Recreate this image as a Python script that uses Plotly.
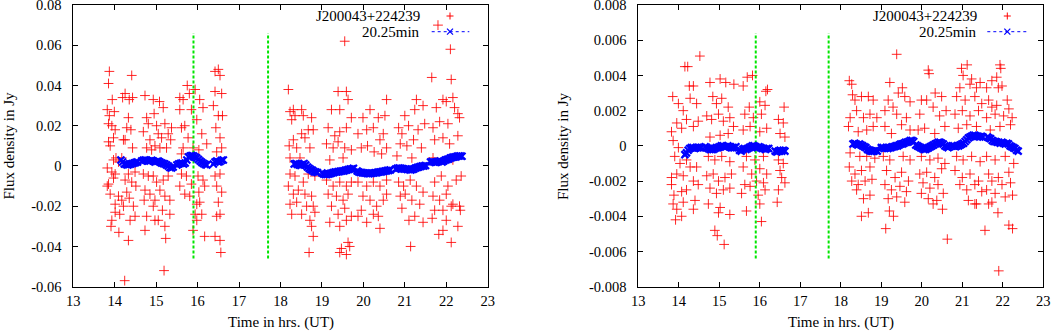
import plotly.graph_objects as go

# ---------------- data ----------------
# Left panel: individual flux measurements (time in hrs UT, flux in Jy)
left_points = [
    (13.87, 0.047), (13.85, 0.041), (13.94, 0.033), (13.82, 0.028), (13.87, 0.025), (13.99, 0.027),
    (13.85, 0.021), (13.93, 0.020), (14.01, 0.018), (13.85, 0.012), (13.89, 0.010), (13.97, 0.014),
    (14.03, 0.004), (13.97, 0.003), (14.09, 0.002), (13.82, -0.001), (13.93, -0.003), (14.01, -0.004),
    (13.85, -0.009), (13.97, -0.006), (13.89, -0.014), (13.82, -0.010), (14.09, -0.015), (14.01, -0.019),
    (13.93, -0.027), (13.91, -0.030), (14.01, -0.023), (14.10, -0.033), (14.12, -0.024), (14.24, -0.057),
    (14.25, 0.036), (14.19, 0.034), (14.33, 0.024), (14.35, 0.033), (14.41, 0.045), (14.43, 0.034),
    (14.29, 0.019), (14.39, 0.018), (14.25, 0.013), (14.43, 0.009), (14.21, 0.013), (14.33, -0.004),
    (14.25, -0.007), (14.41, -0.008), (14.29, -0.013), (14.17, -0.017), (14.35, -0.016), (14.45, -0.020),
    (14.37, -0.027), (14.49, -0.025), (14.21, -0.020), (14.33, -0.037), (14.49, -0.003), (14.51, -0.010),
    (14.17, 0.004),
    (14.73, 0.035), (14.77, 0.024), (14.81, 0.021), (14.69, 0.017), (14.85, 0.013), (14.93, 0.033),
    (14.95, 0.026), (15.01, 0.020), (15.08, 0.032), (15.17, 0.029), (15.05, 0.016), (15.13, 0.014),
    (15.21, 0.021), (15.29, 0.016), (15.35, 0.013), (15.37, 0.019), (14.77, 0.009), (14.89, 0.008),
    (14.97, 0.010), (15.09, 0.009), (15.25, 0.009), (14.69, -0.004), (14.81, -0.005), (14.93, -0.005),
    (15.01, -0.008), (15.17, -0.007), (15.29, -0.005), (14.73, -0.012), (14.85, -0.014), (14.97, -0.017),
    (15.09, -0.012), (15.21, -0.015), (15.33, -0.017), (14.71, -0.017), (14.77, -0.025), (14.93, -0.020),
    (14.97, -0.027), (15.05, -0.027), (15.15, -0.022), (15.21, -0.030), (14.73, -0.032), (15.23, -0.036),
    (15.19, -0.052), (15.33, -0.024),
    (15.57, 0.034), (15.65, 0.033), (15.75, 0.040), (15.80, 0.036), (15.94, 0.038), (15.85, 0.028),
    (16.05, 0.033), (16.13, 0.029), (15.57, 0.028), (15.61, 0.019), (15.69, 0.020), (15.77, 0.014),
    (15.98, 0.023), (16.10, 0.016), (16.22, 0.011), (15.65, 0.009), (15.89, 0.009), (16.03, 0.008),
    (15.61, -0.004), (15.73, -0.005), (15.85, -0.009), (16.01, -0.005), (16.13, -0.007), (15.57, -0.010),
    (15.69, -0.014), (15.81, -0.015), (16.03, -0.013), (16.17, -0.010), (15.98, -0.019), (16.05, -0.018),
    (15.94, -0.024), (15.98, -0.027), (16.10, -0.024), (15.89, -0.032), (16.17, -0.035), (15.61, 0.006),
    (16.42, 0.047), (16.50, 0.048), (16.54, 0.045), (16.42, 0.037), (16.58, 0.036), (16.38, 0.030),
    (16.50, 0.025), (16.60, 0.025), (16.44, 0.019), (16.54, 0.014), (16.58, 0.009), (16.46, 0.007),
    (16.42, -0.005), (16.54, -0.004), (16.46, -0.010), (16.58, -0.013), (16.50, -0.018), (16.46, -0.025),
    (16.54, -0.024), (16.42, -0.035), (16.54, -0.037), (16.56, -0.043),
    (18.19, 0.038), (18.23, 0.027), (18.31, 0.028), (18.27, 0.023), (18.35, 0.025), (18.51, 0.028),
    (18.55, 0.025), (18.67, 0.018), (18.75, 0.024), (18.79, 0.018), (18.21, 0.010), (18.31, 0.013),
    (18.39, 0.009), (18.51, 0.016), (18.59, 0.014), (18.71, 0.009), (18.23, 0.004), (18.47, 0.004),
    (18.23, -0.004), (18.35, -0.005), (18.55, -0.008), (18.67, -0.004), (18.83, -0.005), (18.19, -0.010),
    (18.31, -0.014), (18.43, -0.012), (18.59, -0.014), (18.75, -0.015), (18.23, -0.019), (18.39, -0.018),
    (18.51, -0.024), (18.63, -0.020), (18.79, -0.020), (18.83, -0.023), (18.71, -0.027), (18.75, -0.030),
    (18.79, -0.035), (18.69, -0.043), (18.27, -0.024),
    (19.55, 0.062), (19.39, 0.037), (19.59, 0.037), (19.63, 0.033), (19.43, 0.028), (19.23, 0.028),
    (19.71, 0.024), (19.15, 0.019), (19.31, 0.015), (19.43, 0.017), (19.59, 0.019), (19.11, 0.011),
    (19.27, 0.009), (19.39, 0.012), (19.55, 0.009), (19.71, 0.008), (19.19, 0.003), (19.51, 0.004),
    (19.11, -0.007), (19.27, -0.010), (19.43, -0.008), (19.59, -0.010), (19.71, -0.008), (19.15, -0.014),
    (19.35, -0.015), (19.51, -0.017), (19.63, -0.014), (19.23, -0.020), (19.39, -0.024), (19.55, -0.021),
    (19.71, -0.025), (19.19, -0.028), (19.59, -0.027), (19.43, -0.030), (19.63, -0.038), (19.67, -0.040),
    (19.47, -0.041), (19.59, -0.044), (19.43, -0.043),
    (19.99, 0.024), (20.16, 0.028), (20.36, 0.024), (20.52, 0.025), (20.56, 0.033), (19.87, 0.016),
    (20.08, 0.018), (20.24, 0.019), (20.40, 0.013), (20.48, 0.016), (19.95, 0.009), (20.10, 0.010),
    (20.26, 0.007), (20.44, 0.006), (20.56, 0.009), (19.87, -0.008), (20.08, -0.010), (20.24, -0.008),
    (20.40, -0.010), (20.56, -0.007), (19.99, -0.015), (20.16, -0.017), (20.32, -0.020), (20.48, -0.017),
    (19.95, -0.022), (20.24, -0.024), (20.36, -0.025), (20.08, -0.028), (20.40, -0.031), (19.87, -0.025),
    (20.56, -0.014),
    (21.00, 0.025), (21.24, 0.028), (21.28, 0.033), (21.44, 0.030), (20.85, 0.019), (20.93, 0.016),
    (21.09, 0.020), (21.32, 0.018), (21.48, 0.021), (20.89, 0.011), (21.05, 0.010), (21.21, 0.013),
    (21.40, 0.009), (20.81, 0.005), (21.17, 0.004), (20.85, -0.008), (20.97, -0.010), (21.13, -0.007),
    (21.28, -0.010), (21.44, -0.013), (20.89, -0.015), (21.01, -0.014), (21.17, -0.017), (21.36, -0.019),
    (20.93, -0.021), (21.24, -0.025), (21.10, -0.027), (21.44, -0.028), (21.14, -0.040),
    (21.80, 0.070), (22.10, 0.058), (22.12, 0.043), (21.65, 0.044), (22.16, 0.034), (21.92, 0.033),
    (22.00, 0.032), (21.76, 0.029), (22.20, 0.029), (22.28, 0.026), (21.68, 0.019), (21.84, 0.022),
    (22.04, 0.021), (22.32, 0.024), (21.72, 0.013), (21.92, 0.014), (22.08, 0.011), (22.28, 0.015),
    (21.68, 0.004), (22.16, 0.003), (21.72, -0.008), (21.88, -0.005), (22.04, -0.010), (22.24, -0.007),
    (22.36, -0.005), (21.68, -0.015), (21.84, -0.017), (22.00, -0.014), (22.16, -0.019), (22.32, -0.020),
    (21.72, -0.022), (21.92, -0.022), (22.12, -0.020), (22.34, -0.022), (21.66, -0.026), (22.00, -0.027),
    (21.92, -0.032), (21.82, -0.034), (22.12, -0.038), (22.28, -0.030),
]

# Right panel: individual flux measurements (time in hrs UT, flux in mJy)
right_points_mjy = [
    (14.15, 4.5), (14.22, 4.5), (14.52, 5.1), (13.85, 2.8), (13.99, 2.4), (14.11, 2.0), (14.26, 3.4),
    (14.36, 3.4), (14.28, 2.7), (14.44, 2.4), (13.82, 0.8), (13.95, 1.3), (14.07, 1.0), (14.19, 1.5),
    (14.36, 1.1), (14.48, 1.4), (13.86, 0.3), (13.99, -0.1), (13.90, -0.6), (14.03, -1.0), (14.19, -0.8),
    (14.28, -1.2), (14.44, -1.2), (13.82, -1.8), (13.95, -1.6), (14.11, -1.7), (14.36, -2.0), (14.48, -2.2),
    (13.82, -2.2), (13.88, -2.8), (14.07, -2.6), (14.19, -2.5), (14.40, -3.1), (13.86, -3.3), (13.95, -3.6),
    (14.11, -3.2), (14.36, -3.6), (13.92, -4.2), (14.07, -4.0),
    (14.77, 3.6), (15.02, 3.8), (15.16, 3.6), (15.36, 3.5), (14.84, 2.8), (14.93, 2.4), (15.06, 2.7),
    (15.22, 2.2), (14.69, 1.7), (14.81, 1.5), (14.98, 1.8), (15.10, 1.4), (15.26, 1.6), (15.35, 1.1),
    (14.77, 0.5), (15.02, 0.6), (15.22, 0.7), (14.73, -0.6), (14.89, -0.8), (15.06, -0.6), (15.26, -0.9),
    (14.69, -1.7), (14.85, -1.6), (14.98, -2.0), (15.14, -1.8), (15.30, -1.6), (14.77, -2.4), (14.93, -2.7),
    (15.10, -2.5), (15.26, -2.4), (14.73, -3.3), (15.02, -3.5), (15.26, -3.9), (14.98, -3.8), (14.89, -4.8),
    (14.95, -5.1), (15.12, -5.6),
    (15.69, 3.9), (15.82, 4.0), (15.59, 3.4), (15.74, 2.2), (16.00, 2.5), (16.15, 3.1), (16.19, 3.2),
    (15.63, 1.8), (15.84, 1.6), (16.04, 1.8), (16.13, 2.3), (15.59, 0.9), (15.76, 1.1), (16.00, 0.8),
    (16.17, 1.0), (15.67, -0.6), (15.88, -0.8), (16.09, -0.6), (15.59, -1.2), (15.80, -1.6), (16.00, -1.3),
    (16.17, -1.6), (15.63, -2.2), (15.76, -2.3), (15.92, -2.0), (16.09, -2.1), (15.55, -2.7), (15.96, -2.8),
    (16.13, -2.5), (16.00, -3.3), (15.67, -3.7), (16.04, -4.3),
    (16.60, 2.2), (16.46, 1.5), (16.58, 1.3), (16.50, 0.7), (16.62, 0.5), (16.46, -0.8), (16.58, -1.0),
    (16.50, -1.4), (16.62, -2.1), (16.54, -1.8), (16.46, -2.5), (16.43, -3.2),
    (18.21, 3.7), (18.27, 3.5), (18.29, 2.9), (18.35, 2.6), (18.51, 2.8), (18.68, 2.8), (18.80, 2.6),
    (18.23, 1.6), (18.39, 2.0), (18.56, 1.6), (18.72, 1.8), (18.89, 1.6), (18.19, 1.1), (18.43, 0.8),
    (18.64, 0.9), (18.80, 1.1), (18.23, -0.4), (18.47, -0.6), (18.64, -0.6), (18.84, -0.7), (18.21, -1.2),
    (18.35, -1.6), (18.51, -1.4), (18.72, -1.2), (18.27, -2.0), (18.43, -2.2), (18.60, -2.0), (18.77, -1.9),
    (18.39, -2.5), (18.56, -3.0), (18.72, -2.8), (18.51, -4.0), (18.68, -3.8),
    (19.38, 5.2), (19.21, 3.6), (19.52, 3.3), (19.42, 3.0), (19.17, 2.6), (19.29, 2.2), (19.58, 2.8),
    (19.71, 2.5), (19.09, 2.0), (19.38, 1.8), (19.62, 1.6), (19.09, 1.1), (19.25, 0.7), (19.50, 1.2),
    (19.71, 0.9), (19.05, -0.6), (19.21, -0.8), (19.54, -0.6), (19.71, -0.8), (19.13, -1.4), (19.34, -1.8),
    (19.50, -1.5), (19.67, -2.0), (19.09, -2.2), (19.25, -2.5), (19.46, -2.3), (19.62, -2.6), (19.17, -3.0),
    (19.38, -2.9), (19.58, -3.2), (19.20, -3.7), (19.30, -4.0), (19.11, -4.7),
    (20.16, 4.3), (20.18, 4.1), (20.12, 2.6), (19.99, 2.6), (20.33, 3.0), (20.49, 2.8), (19.95, 1.8),
    (20.28, 2.2), (20.44, 1.7), (20.60, 2.0), (19.91, 0.9), (20.07, 1.0), (20.32, 0.7), (20.57, 1.1),
    (19.99, -0.6), (20.20, -0.8), (20.40, -0.7), (20.57, -1.0), (19.95, -1.6), (20.12, -1.5), (20.32, -1.8),
    (20.49, -1.3), (20.03, -2.1), (20.20, -2.4), (20.40, -2.2), (19.99, -2.7), (20.16, -3.0), (20.37, -3.1),
    (20.53, -2.7), (20.28, -3.3), (20.51, -3.6), (20.63, -5.3),
    (20.98, 4.4), (21.12, 4.6), (21.23, 3.8), (21.02, 4.0), (20.94, 3.3), (21.19, 3.5), (21.35, 3.3),
    (21.44, 3.6), (20.86, 2.8), (21.07, 2.6), (21.31, 2.8), (21.48, 2.4), (20.82, 1.8), (21.00, 2.0),
    (21.19, 1.7), (21.40, 2.0), (20.90, 1.0), (21.11, 1.2), (21.35, 1.1), (20.86, -0.6), (21.02, -0.8),
    (21.23, -0.6), (21.44, -0.9), (20.82, -1.4), (21.00, -1.8), (21.19, -1.6), (21.40, -2.0), (20.94, -2.2),
    (21.11, -2.5), (21.31, -2.2), (21.48, -2.6), (21.15, -3.1), (21.31, -3.3), (21.35, -3.3),
    (21.93, 4.6), (21.95, 4.4), (21.85, 3.9), (21.73, 3.7), (21.60, 3.3), (21.89, 3.3), (21.98, 3.4),
    (21.65, 2.6), (22.11, 2.6), (21.73, 2.2), (21.85, 2.3), (22.15, 2.1), (21.60, 1.6), (21.81, 1.8),
    (22.02, 1.7), (22.23, 1.6), (21.69, 0.9), (21.93, 1.1), (22.19, 1.2), (21.60, -0.6), (21.81, -0.8),
    (22.06, -0.6), (22.27, -1.0), (21.65, -1.6), (21.89, -1.8), (22.15, -1.5), (21.73, -2.0), (21.98, -2.2),
    (22.19, -2.1), (21.60, -2.5), (21.81, -2.7), (22.06, -2.9), (22.24, -2.8), (21.73, -3.2), (21.65, -3.3),
    (21.56, -4.8), (21.88, -3.8), (22.15, -4.5), (22.24, -4.7), (21.90, -7.1),
]

# 20.25-min running average: (segment start time, sampling step in hrs, values)
left_avg_segments = [
    (14.15, 0.04, [0.003, 0.002, 0.001, 0.0008, 0.0005, 0.0008, 0.001, 0.0012, 0.0015, 0.0018, 0.002]),
    (14.65, 0.04, [0.0025, 0.0028, 0.003, 0.0028, 0.0025, 0.0025, 0.0028, 0.0025, 0.002, 0.0022,
                   0.0025, 0.002, 0.0015, 0.0012, 0.001, 0.0005, 0.0, -0.0008, -0.001, -0.0005]),
    (15.50, 0.04, [0.0005, 0.001, 0.0012, 0.0015, 0.001, 0.0015, 0.003, 0.0045, 0.005, 0.0052,
                   0.005, 0.0045, 0.004, 0.0032, 0.0025, 0.0018, 0.0012, 0.0008, 0.0005]),
    (16.38, 0.04, [0.001, 0.002, 0.0025, 0.002, 0.0022, 0.0028, 0.003]),
    (18.33, 0.04, [0.001, 0.0012, 0.0008, 0.0005, 0.0003, 0.0008, 0.0012, 0.0005, -0.0005, -0.0012,
                   -0.0018, -0.0022, -0.0028, -0.003, -0.0032]),
    (19.00, 0.04, [-0.0035, -0.004, -0.0042, -0.0042, -0.004, -0.0038, -0.0035, -0.0033, -0.003, -0.003,
                   -0.0028, -0.0027, -0.0025, -0.0025, -0.0022, -0.002, -0.0018, -0.0015, -0.0015, -0.0012]),
    (19.85, 0.04, [-0.0025, -0.003, -0.0032, -0.0033, -0.0035, -0.0035, -0.0037, -0.0038, -0.0037, -0.0036,
                   -0.0035, -0.0034, -0.0033, -0.003, -0.003, -0.0028, -0.0027, -0.0025, -0.0023, -0.0022,
                   -0.002]),
    (20.78, 0.04, [-0.0015, -0.0012, -0.001, -0.0012, -0.0013, -0.0015, -0.0015, -0.0017, -0.0018, -0.002,
                   -0.0018, -0.0015, -0.001, -0.0008, -0.0005, -0.0003, 0.0, 0.0, 0.0002]),
    (21.62, 0.04, [0.002, 0.0022, 0.002, 0.0018, 0.002, 0.0022, 0.0025, 0.002, 0.0025, 0.003,
                   0.0032, 0.0035, 0.004, 0.0042, 0.0045, 0.0045, 0.0048, 0.005, 0.005, 0.0048]),
]
right_avg_segments_mjy = [
    (14.15, 0.04, [-0.5, -0.4, -0.25, -0.15, -0.1, -0.1, -0.15, -0.1, -0.1, -0.1, -0.1]),
    (14.65, 0.04, [-0.05, -0.1, -0.15, -0.2, -0.2, -0.2, -0.15, -0.1, -0.1, -0.05,
                   0.0, 0.0, -0.05, -0.05, 0.0, -0.05, -0.1, -0.1, -0.1, -0.05]),
    (15.50, 0.04, [-0.25, -0.3, -0.2, -0.15, -0.2, -0.15, -0.1, -0.05, 0.0, 0.0,
                   -0.05, -0.1, -0.05, -0.1, -0.15, -0.15, -0.2, -0.15, -0.15]),
    (16.38, 0.04, [-0.3, -0.35, -0.3, -0.25, -0.3, -0.25, -0.3]),
    (18.30, 0.04, [0.1, 0.15, 0.1, 0.05, 0.1, 0.05, 0.0, -0.05, -0.1, -0.2, -0.25, -0.3, -0.3, -0.3,
                   -0.25, -0.3]),
    (19.00, 0.04, [-0.1, -0.1, -0.15, -0.1, -0.15, -0.1, -0.1, -0.05, -0.05, 0.0, 0.0, 0.05, 0.1, 0.1,
                   0.15, 0.2, 0.2, 0.25, 0.3, 0.3, 0.25]),
    (19.85, 0.04, [0.05, 0.0, -0.05, -0.1, -0.15, -0.2, -0.2, -0.15, -0.1, -0.05, 0.0, 0.05, 0.1, 0.15,
                   0.2, 0.2, 0.15, 0.1, 0.0, -0.05, -0.1]),
    (20.75, 0.04, [0.0, 0.0, -0.05, 0.0, 0.0, 0.05, 0.1, 0.15, 0.25, 0.35, 0.45, 0.5, 0.55, 0.6,
                   0.6, 0.55, 0.55, 0.5, 0.55, 0.5]),
    (21.62, 0.04, [0.5, 0.45, 0.4, 0.3, 0.25, 0.25, 0.2, 0.2, 0.15, 0.2, 0.15, 0.1, 0.15, 0.1,
                   0.0, -0.05, -0.1, -0.15, -0.25, -0.3]),
]

# vertical markers (green dashed lines)
vline_times = [15.9, 17.7]
left_vline_range = [-0.046, 0.066]
right_vline_range = [-0.0064, 0.0064]

x_ticks = [13, 14, 15, 16, 17, 18, 19, 20, 21, 22, 23]
left_yticks = [-0.06, -0.04, -0.02, 0, 0.02, 0.04, 0.06, 0.08]
left_yticklabels = ["-0.06", "-0.04", "-0.02", "0", "0.02", "0.04", "0.06", "0.08"]
right_yticks = [-0.008, -0.006, -0.004, -0.002, 0, 0.002, 0.004, 0.006, 0.008]
right_yticklabels = ["-0.008", "-0.006", "-0.004", "-0.002", "0", "0.002", "0.004", "0.006", "0.008"]

source_name = "J200043+224239"
avg_name = "20.25min"
x_title = "Time in hrs. (UT)"
y_title = "Flux density in Jy"

# ---------------- build figure ----------------
W, H = 1059, 331
FONT = "Liberation Serif"
FS = 14.5    # tick labels
FS_T = 15    # titles / key
RED = "rgb(255,0,0)"
BLUE = "rgb(0,0,255)"
GREEN = "rgb(0,230,0)"


def unzip(pairs, scale=1.0):
    return [p[0] for p in pairs], [p[1] * scale for p in pairs]


def seg_series(segs, scale=1.0):
    xs, ys = [], []
    for t0, dt, vals in segs:
        for i, v in enumerate(vals):
            xs.append(round(t0 + i * dt, 4))
            ys.append(v * scale)
        xs.append(None)
        ys.append(None)
    return xs, ys


fig = go.Figure()

panels = [
    dict(xa="x", ya="y", pts=unzip(left_points), avg=seg_series(left_avg_segments),
         vr=left_vline_range),
    dict(xa="x2", ya="y2", pts=unzip(right_points_mjy, 1e-3), avg=seg_series(right_avg_segments_mjy, 1e-3),
         vr=right_vline_range),
]

for p in panels:
    fig.add_trace(go.Scatter(
        x=p["pts"][0], y=p["pts"][1], mode="markers", xaxis=p["xa"], yaxis=p["ya"],
        marker=dict(symbol="cross-thin", size=7, line=dict(color="rgba(255,0,0,0.85)", width=1), color=RED),
        showlegend=False, hoverinfo="skip"))
    for t in vline_times:
        fig.add_trace(go.Scatter(
            x=[t, t], y=p["vr"], mode="lines", xaxis=p["xa"], yaxis=p["ya"],
            line=dict(color=GREEN, width=2, dash="3px,2px"), showlegend=False, hoverinfo="skip"))
    fig.add_trace(go.Scatter(
        x=p["avg"][0], y=p["avg"][1], mode="lines+markers", xaxis=p["xa"], yaxis=p["ya"],
        line=dict(color=BLUE, width=1, dash="dot"),
        marker=dict(symbol="x-thin", size=7, line=dict(color=BLUE, width=2.2), color=BLUE),
        connectgaps=False, showlegend=False, hoverinfo="skip"))

# plot areas (pixel geometry of reference)
left_px = [73.3, 487.7]
right_px = [638.3, 1043.3]
top_px, bot_px = 5.0, 286.7
left_x = [left_px[0] / W, left_px[1] / W]
right_x = [right_px[0] / W, right_px[1] / W]
ydom = [(H - bot_px) / H, (H - top_px) / H]

axis_common = dict(showline=True, linecolor="black", linewidth=1, mirror="ticks", ticks="inside",
                   ticklen=5, tickcolor="black", showgrid=False, zeroline=False, automargin=False,
                   ticklabeloverflow="allow",
                   tickfont=dict(family=FONT, size=FS, color="black"))

fig.update_layout(
    width=W, height=H, margin=dict(l=0, r=0, t=0, b=0, autoexpand=False),
    paper_bgcolor="white", plot_bgcolor="white", showlegend=False,
    font=dict(family=FONT, size=FS, color="black"),
    xaxis=dict(domain=left_x, range=[13, 23], tickvals=x_ticks, anchor="y", ticklabelstandoff=1,
               **axis_common),
    yaxis=dict(domain=ydom, range=[-0.06, 0.08], tickvals=left_yticks, ticktext=left_yticklabels,
               anchor="x", ticklabelstandoff=8, **axis_common),
    xaxis2=dict(domain=right_x, range=[13, 23], tickvals=x_ticks, anchor="y2", ticklabelstandoff=1,
                **axis_common),
    yaxis2=dict(domain=ydom, range=[-0.008, 0.008], tickvals=right_yticks, ticktext=right_yticklabels,
                anchor="x2", ticklabelstandoff=8, **axis_common),
)


def px(xp):
    return xp / W


def py(yp):
    return 1 - yp / H


shapes = []
annotations = []
# axis titles
for cx, ytx in [((left_px[0] + left_px[1]) / 2, 8.5), ((right_px[0] + right_px[1]) / 2, 563.0)]:
    annotations.append(dict(xref="paper", yref="paper", x=px(cx), y=py(322.0), text=x_title,
                            showarrow=False, xanchor="center", yanchor="middle",
                            font=dict(family=FONT, size=FS_T, color="black")))
    annotations.append(dict(xref="paper", yref="paper", x=px(ytx), y=py(146), text=y_title,
                            showarrow=False, xanchor="center", yanchor="middle", textangle=-90,
                            font=dict(family=FONT, size=FS_T, color="black")))

# gnuplot-style key (text left of sample)
for text_right, sample_c, line_l, line_r in [(421.7, 450.0, 431.7, 469.3), (979.3, 1007.3, 987.3, 1026.7)]:
    annotations.append(dict(xref="paper", yref="paper", x=px(text_right), y=py(16), text=source_name,
                            showarrow=False, xanchor="right", yanchor="middle",
                            font=dict(family=FONT, size=FS_T, color="black")))
    annotations.append(dict(xref="paper", yref="paper", x=px(text_right), y=py(31.7), text=avg_name,
                            showarrow=False, xanchor="right", yanchor="middle",
                            font=dict(family=FONT, size=FS_T, color="black")))
    shapes.append(dict(type="line", xref="paper", yref="paper", x0=px(sample_c - 3.5), x1=px(sample_c + 3.5),
                       y0=py(16), y1=py(16), line=dict(color=RED, width=1)))
    shapes.append(dict(type="line", xref="paper", yref="paper", x0=px(sample_c), x1=px(sample_c),
                       y0=py(12.5), y1=py(19.5), line=dict(color=RED, width=1)))
    shapes.append(dict(type="line", xref="paper", yref="paper", x0=px(line_l), x1=px(line_r),
                       y0=py(31.7), y1=py(31.7), line=dict(color=BLUE, width=1, dash="dot")))
    shapes.append(dict(type="line", xref="paper", yref="paper", x0=px(sample_c - 3), x1=px(sample_c + 3),
                       y0=py(28.7), y1=py(34.7), line=dict(color=BLUE, width=1.2)))
    shapes.append(dict(type="line", xref="paper", yref="paper", x0=px(sample_c - 3), x1=px(sample_c + 3),
                       y0=py(34.7), y1=py(28.7), line=dict(color=BLUE, width=1.2)))

fig.update_layout(shapes=shapes, annotations=annotations)

# remove the browser's default 8px body margin so the figure fills the window exactly
fig.write_html("out.html", config={"displayModeBar": False},
               post_script="document.body.style.margin='0';document.body.style.overflow='hidden';")
